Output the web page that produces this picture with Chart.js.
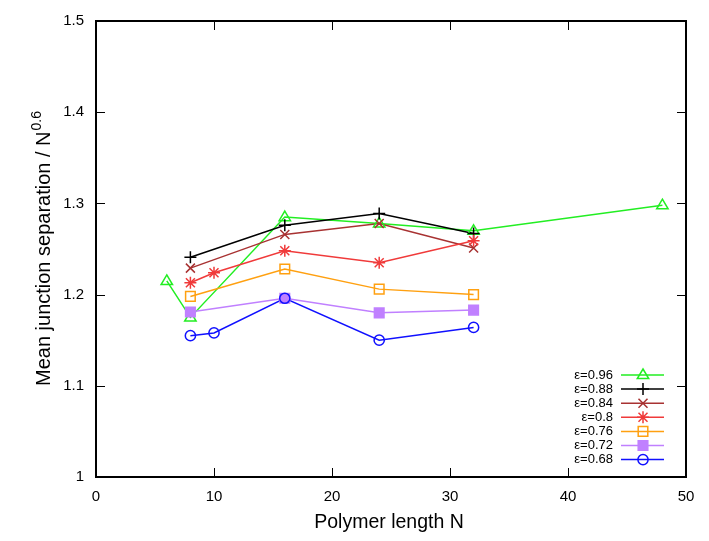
<!DOCTYPE html>
<html>
<head>
<meta charset="utf-8">
<script src="https://cdn.jsdelivr.net/npm/chart.js@4/dist/chart.umd.min.js"></script>
<style>
  html, body { margin: 0; padding: 0; background: #fff; }
  #wrap { width: 709px; height: 541px; }
</style>
</head>
<body>
<div id="wrap"><canvas id="c" width="709" height="541"></canvas></div>
<script>
// series, in legend order
const labels = ['ε=0.96', 'ε=0.88', 'ε=0.84', 'ε=0.8', 'ε=0.76', 'ε=0.72', 'ε=0.68'];
const eps096 = [[6, 1.215], [8, 1.175], [16, 1.285], [24, 1.278], [32, 1.270], [48, 1.298]];
const eps088 = [[8, 1.241], [16, 1.276], [24, 1.289], [32, 1.267]];
const eps084 = [[8, 1.229], [16, 1.266], [24, 1.278], [32, 1.251]];
const eps080 = [[8, 1.213], [10, 1.224], [16, 1.248], [24, 1.235], [32, 1.259]];
const eps076 = [[8, 1.198], [16, 1.228], [24, 1.206], [32, 1.200]];
const eps072 = [[8, 1.181], [16, 1.196], [24, 1.180], [32, 1.183]];
const eps068 = [[8, 1.155], [10, 1.158], [16, 1.196], [24, 1.150], [32, 1.164]];
const xTicks = [0, 10, 20, 30, 40, 50];
const yTicks = [1, 1.1, 1.2, 1.3, 1.4, 1.5];

const series = [eps096, eps088, eps084, eps080, eps076, eps072, eps068];
const colors = ['#22ee22', '#000000', '#a83232', '#f03a3a', '#ffa010', '#c080ff', '#1010ff'];
const markers = ['triangle', 'cross', 'crossRot', 'star', 'rect', 'rect', 'circle'];
const filled = [false, false, false, false, false, true, false];
const FONT = '"Liberation Sans", Arial, Helvetica, sans-serif';

function drawMarker(ctx, style, x, y, r, color, fill) {
  ctx.save();
  ctx.strokeStyle = color;
  ctx.fillStyle = color;
  ctx.lineWidth = 1.5;
  ctx.beginPath();
  if (style === 'triangle') {
    ctx.moveTo(x, y - r);
    ctx.lineTo(x + r * 0.95, y + r * 0.6);
    ctx.lineTo(x - r * 0.95, y + r * 0.6);
    ctx.closePath();
  } else if (style === 'cross') {
    ctx.moveTo(x - r, y); ctx.lineTo(x + r, y);
    ctx.moveTo(x, y - r); ctx.lineTo(x, y + r);
  } else if (style === 'crossRot') {
    const d = r * 0.75;
    ctx.moveTo(x - d, y - d); ctx.lineTo(x + d, y + d);
    ctx.moveTo(x - d, y + d); ctx.lineTo(x + d, y - d);
  } else if (style === 'star') {
    const d = r * 0.75;
    ctx.moveTo(x - r, y); ctx.lineTo(x + r, y);
    ctx.moveTo(x, y - r); ctx.lineTo(x, y + r);
    ctx.moveTo(x - d, y - d); ctx.lineTo(x + d, y + d);
    ctx.moveTo(x - d, y + d); ctx.lineTo(x + d, y - d);
  } else if (style === 'rect') {
    const d = r * 0.8;
    ctx.rect(x - d, y - d, 2 * d, 2 * d);
  } else if (style === 'circle') {
    ctx.arc(x, y, r * 0.85, 0, Math.PI * 2);
  }
  if (fill) ctx.fill();
  ctx.stroke();
  ctx.restore();
}

const datasets = series.map((s, i) => ({
  label: labels[i],
  data: s.map(p => ({ x: p[0], y: p[1] })),
  borderColor: colors[i],
  backgroundColor: colors[i],
  borderWidth: 1.5,
  showLine: true,
  pointRadius: 0,
  order: series.length - i,
  _marker: markers[i],
  _filled: filled[i]
}));

const gnuplotFrame = {
  id: 'gnuplotFrame',
  afterDatasetsDraw(chart) {
    const ctx = chart.ctx;
    const area = chart.chartArea;
    const xs = chart.scales.x, ys = chart.scales.y;
    // markers, drawn in the same order as lines
    const metas = chart.getSortedVisibleDatasetMetas().slice().reverse();
    metas.forEach(meta => {
      const ds = chart.data.datasets[meta.index];
      meta.data.forEach(pt => drawMarker(ctx, ds._marker, pt.x, pt.y, 6, ds.borderColor, ds._filled));
    });
    ctx.save();
    // ticks inward, mirrored
    ctx.strokeStyle = '#000';
    ctx.lineWidth = 1;
    ctx.beginPath();
    xTicks.forEach(v => {
      const px = Math.round(xs.getPixelForValue(v)) + 0.5;
      ctx.moveTo(px, area.bottom); ctx.lineTo(px, area.bottom - 9);
      ctx.moveTo(px, area.top); ctx.lineTo(px, area.top + 9);
    });
    yTicks.forEach(v => {
      const py = Math.round(ys.getPixelForValue(v)) + 0.5;
      ctx.moveTo(area.left, py); ctx.lineTo(area.left + 9, py);
      ctx.moveTo(area.right, py); ctx.lineTo(area.right - 9, py);
    });
    ctx.stroke();
    // border
    ctx.lineWidth = 2;
    ctx.strokeRect(area.left, area.top, area.right - area.left, area.bottom - area.top);
    // legend
    ctx.font = '13px ' + FONT;
    ctx.textAlign = 'right';
    ctx.textBaseline = 'middle';
    chart.data.datasets.forEach((ds, i) => {
      const y = 375 + i * 14.1;
      ctx.fillStyle = '#000';
      ctx.fillText(ds.label, 613, y);
      ctx.strokeStyle = ds.borderColor;
      ctx.lineWidth = 1.5;
      ctx.beginPath();
      ctx.moveTo(621, y); ctx.lineTo(664, y);
      ctx.stroke();
      drawMarker(ctx, ds._marker, 643, y, 6, ds.borderColor, ds._filled);
    });
    // axis titles
    ctx.fillStyle = '#000';
    ctx.font = '19.5px ' + FONT;
    ctx.textAlign = 'center';
    ctx.textBaseline = 'alphabetic';
    ctx.fillText('Polymer length N', (area.left + area.right) / 2 - 2, 528);
    const main = 'Mean junction separation / N';
    const sup = '0.6';
    ctx.font = '20px ' + FONT;
    const wMain = ctx.measureText(main).width;
    ctx.font = '14px ' + FONT;
    const wSup = ctx.measureText(sup).width;
    ctx.translate(50, (area.top + area.bottom) / 2);
    ctx.rotate(-Math.PI / 2);
    const start = -(wMain + wSup) / 2;
    ctx.textAlign = 'left';
    ctx.font = '20px ' + FONT;
    ctx.fillText(main, start, 0);
    ctx.font = '14px ' + FONT;
    ctx.fillText(sup, start + wMain + 1, -9);
    ctx.restore();
  }
};

new Chart(document.getElementById('c'), {
  type: 'scatter',
  data: { datasets },
  options: {
    responsive: false,
    animation: false,
    layout: { padding: { left: 0, right: 23, top: 18, bottom: 0 } },
    plugins: { legend: { display: false }, tooltip: { enabled: false } },
    scales: {
      x: {
        type: 'linear', min: 0, max: 50,
        afterBuildTicks: s => { s.ticks = xTicks.map(v => ({ value: v })); },
        afterFit: s => { s.height = 64; },
        grid: { display: false, drawTicks: false },
        border: { display: false },
        ticks: { color: '#000', font: { size: 15, family: FONT }, padding: 11, maxRotation: 0 }
      },
      y: {
        type: 'linear', min: 1, max: 1.5,
        afterBuildTicks: s => { s.ticks = yTicks.map(v => ({ value: v })); },
        afterFit: s => { s.width = 96; },
        grid: { display: false, drawTicks: false },
        border: { display: false },
        ticks: { color: '#000', font: { size: 15, family: FONT }, padding: 12, callback: v => String(v) }
      }
    }
  },
  plugins: [gnuplotFrame]
});
</script>
</body>
</html>
